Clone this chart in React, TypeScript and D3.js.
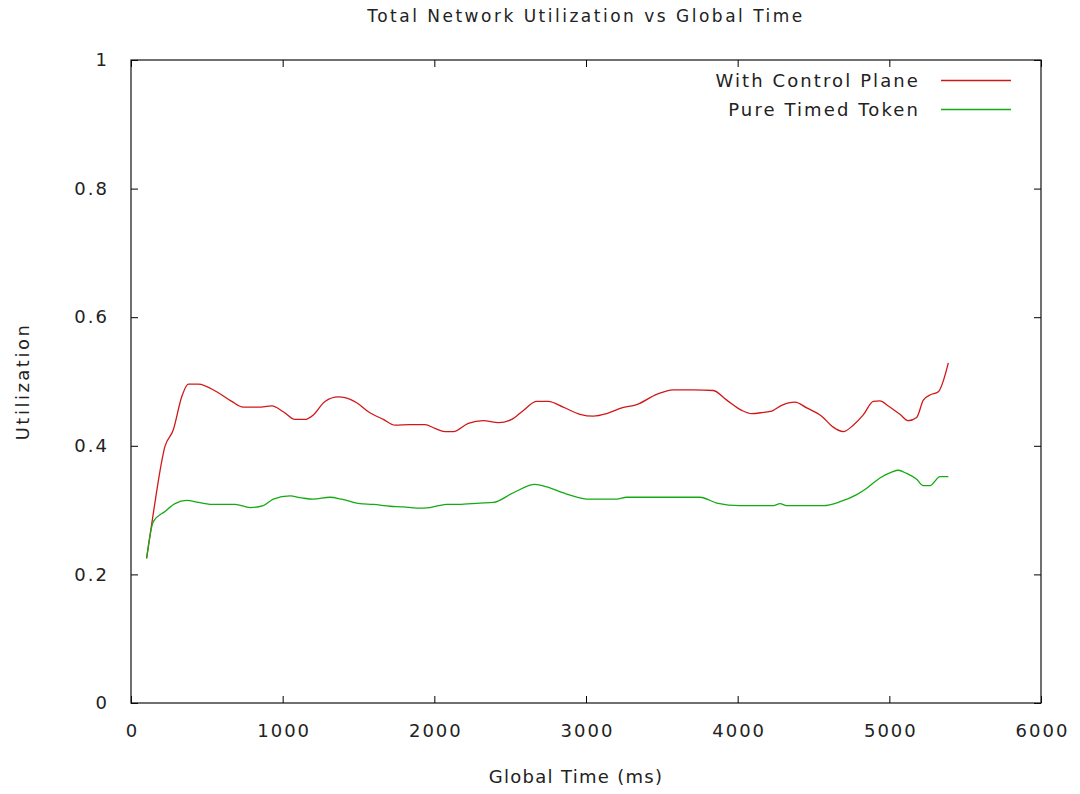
import {useEffect, useRef} from 'react';
import * as d3 from 'd3';

// With Control Plane (red)
const controlTime = [103, 147, 224, 279, 334, 378, 444, 565, 664, 740, 839, 928, 1004, 1081, 1147, 1202, 1279, 1367, 1411, 1488, 1565, 1664, 1741, 1840, 1938, 2004, 2070, 2125, 2224, 2323, 2422, 2510, 2587, 2675, 2751, 2850, 2960, 3048, 3137, 3236, 3334, 3466, 3576, 3707, 3839, 3928, 4027, 4092, 4169, 4224, 4290, 4378, 4455, 4554, 4630, 4696, 4762, 4828, 4894, 4938, 4993, 5070, 5125, 5180, 5224, 5268, 5323, 5389];
const controlUtil = [0.225, 0.295, 0.399, 0.425, 0.476, 0.496, 0.496, 0.484, 0.469, 0.46, 0.46, 0.462, 0.453, 0.441, 0.441, 0.448, 0.469, 0.476, 0.475, 0.467, 0.453, 0.441, 0.432, 0.433, 0.433, 0.427, 0.422, 0.422, 0.435, 0.439, 0.436, 0.441, 0.455, 0.469, 0.469, 0.46, 0.449, 0.446, 0.45, 0.459, 0.464, 0.48, 0.487, 0.487, 0.486, 0.471, 0.455, 0.45, 0.452, 0.454, 0.463, 0.468, 0.459, 0.446, 0.429, 0.422, 0.432, 0.448, 0.469, 0.47, 0.462, 0.449, 0.439, 0.444, 0.471, 0.479, 0.484, 0.529];

// Pure Timed Token (green)
const tokenTime = [103, 147, 224, 290, 367, 444, 521, 686, 785, 872, 938, 1048, 1125, 1202, 1312, 1389, 1510, 1598, 1708, 1795, 1884, 1971, 2081, 2158, 2301, 2389, 2521, 2664, 2741, 2873, 3026, 3202, 3268, 3752, 3862, 4016, 4192, 4235, 4279, 4323, 4565, 4675, 4785, 4851, 4938, 5015, 5059, 5114, 5180, 5224, 5268, 5334, 5389];
const tokenUtil = [0.225, 0.282, 0.298, 0.31, 0.315, 0.312, 0.309, 0.309, 0.304, 0.307, 0.317, 0.322, 0.319, 0.317, 0.32, 0.317, 0.31, 0.309, 0.306, 0.305, 0.303, 0.304, 0.309, 0.309, 0.311, 0.312, 0.327, 0.34, 0.336, 0.325, 0.317, 0.317, 0.32, 0.32, 0.311, 0.307, 0.307, 0.307, 0.31, 0.307, 0.307, 0.313, 0.324, 0.334, 0.35, 0.359, 0.362, 0.357, 0.348, 0.338, 0.338, 0.352, 0.352];

const xTicks = [0, 1000, 2000, 3000, 4000, 5000, 6000];
const yTicks = [0, 0.2, 0.4, 0.6, 0.8, 1];

const seriesNames = ['With Control Plane', 'Pure Timed Token'];
const seriesColors = ['#d01818', '#14aa14'];

const W = 1080;
const H = 794;
const FONT = '"DejaVu Sans", sans-serif';

const App = () => {
  const svgRef = useRef<SVGSVGElement>(null);

  useEffect(() => {
    const margin = {top: 60, right: 39, bottom: 91, left: 131};
    const innerWidth = W - margin.left - margin.right;
    const innerHeight = H - margin.top - margin.bottom;

    const svg = d3.select(svgRef.current);
    svg.selectAll('*').remove();

    const x = d3.scaleLinear().domain([0, 6000]).range([0, innerWidth]);
    const y = d3.scaleLinear().domain([0, 1]).range([innerHeight, 0]);

    const g = svg.append('g').attr('transform', `translate(${margin.left}, ${margin.top})`);

    // ticks on all four sides, pointing inwards
    const tickLen = 7;
    const styleAxis = (sel: any) => {
      sel.select('.domain').remove();
      sel.selectAll('.tick line').attr('stroke', '#000').attr('stroke-width', 1);
      sel.selectAll('.tick text')
        .style('font-family', FONT)
        .style('font-size', '18px')
        .style('letter-spacing', '2px')
        .attr('fill', '#222');
    };

    g.append('g')
      .attr('transform', `translate(0, ${innerHeight})`)
      .call(d3.axisBottom(x).tickValues(xTicks).tickSize(-tickLen).tickPadding(21).tickFormat(d3.format('d')))
      .call(styleAxis)
      .selectAll('.tick text')
      .attr('dx', '1px');

    g.append('g')
      .call(d3.axisTop(x).tickValues(xTicks).tickSize(-tickLen).tickFormat(() => ''))
      .call(styleAxis);

    g.append('g')
      .call(d3.axisLeft(y).tickValues(yTicks).tickSize(-tickLen).tickPadding(22).tickFormat(d => String(+d)))
      .call(styleAxis);

    g.append('g')
      .attr('transform', `translate(${innerWidth}, 0)`)
      .call(d3.axisRight(y).tickValues(yTicks).tickSize(-tickLen).tickFormat(() => ''))
      .call(styleAxis);

    // frame
    g.append('rect')
      .attr('x', 0).attr('y', 0)
      .attr('width', innerWidth).attr('height', innerHeight)
      .attr('fill', 'none')
      .attr('stroke', '#111')
      .attr('stroke-width', 1.2);

    const line = d3.line<[number, number]>()
      .x(d => x(d[0]))
      .y(d => y(d[1]))
      .curve(d3.curveMonotoneX);

    const series = [
      d3.zip(controlTime, controlUtil) as [number, number][],
      d3.zip(tokenTime, tokenUtil) as [number, number][],
    ];

    series.forEach((data, i) => {
      g.append('path')
        .datum(data)
        .attr('fill', 'none')
        .attr('stroke', seriesColors[i])
        .attr('stroke-width', 1.3)
        .attr('d', line);
    });

    // legend
    seriesNames.forEach((name, i) => {
      const ly = 20.5 + i * 29;
      g.append('text')
        .attr('x', 789)
        .attr('y', ly)
        .attr('dy', '0.35em')
        .attr('text-anchor', 'end')
        .style('font-family', FONT)
        .style('font-size', '18px')
        .style('letter-spacing', '2.1px')
        .attr('fill', '#222')
        .text(name);
      g.append('line')
        .attr('x1', 810).attr('x2', 880)
        .attr('y1', ly).attr('y2', ly)
        .attr('stroke', seriesColors[i])
        .attr('stroke-width', 1.3);
    });

    // title
    svg.append('text')
      .attr('x', margin.left + innerWidth / 2)
      .attr('y', 22)
      .attr('text-anchor', 'middle')
      .style('font-family', FONT)
      .style('font-size', '17px')
      .style('letter-spacing', '2.5px')
      .attr('fill', '#222')
      .text('Total Network Utilization vs Global Time');

    // x label
    svg.append('text')
      .attr('x', 576)
      .attr('y', 783)
      .attr('text-anchor', 'middle')
      .style('font-family', FONT)
      .style('font-size', '18px')
      .style('letter-spacing', '1.3px')
      .attr('fill', '#222')
      .text('Global Time (ms)');

    // y label
    svg.append('text')
      .attr('transform', `translate(29, ${margin.top + innerHeight / 2}) rotate(-90)`)
      .attr('text-anchor', 'middle')
      .style('font-family', FONT)
      .style('font-size', '18px')
      .style('letter-spacing', '2.5px')
      .attr('fill', '#222')
      .text('Utilization');
  }, []);

  return (
    <svg
      ref={svgRef}
      width={W}
      height={H}
      style={{position: 'absolute', left: 0, top: 0, background: '#fff'}}
    />
  );
};

export default App;
